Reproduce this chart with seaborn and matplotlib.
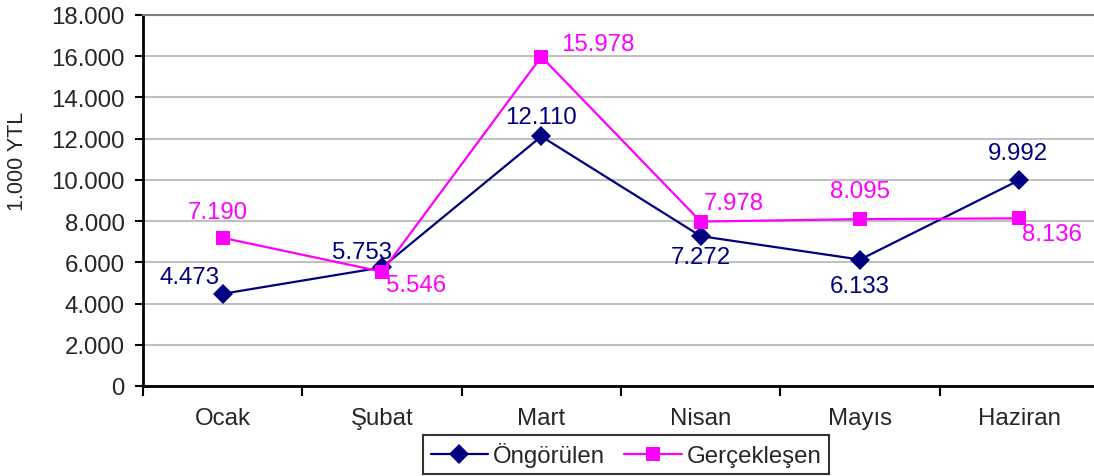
import pandas as pd
import matplotlib
matplotlib.use('Agg')
import matplotlib.pyplot as plt
import seaborn as sns
from matplotlib.lines import Line2D

# Données
aylar = ['Ocak', 'Şubat', 'Mart', 'Nisan', 'Mayıs', 'Haziran']
ongorulen = [4473, 5753, 12110, 7272, 6133, 9992]
gerceklesen = [7190, 5546, 15978, 7978, 8095, 8136]
y_ticks = [0, 2000, 4000, 6000, 8000, 10000, 12000, 14000, 16000, 18000]

df = pd.DataFrame({
    'Ay': aylar * 2,
    'Deger': ongorulen + gerceklesen,
    'Seri': ['Öngörülen'] * 6 + ['Gerçekleşen'] * 6,
})

sns.set_style('white')
plt.rcParams['font.family'] = ['Liberation Sans', 'DejaVu Sans']
FS = 17.3

fig = plt.figure(figsize=(10.94, 4.77), dpi=100)
ax = fig.add_axes([143 / 1094, 90 / 477, (1099 - 143) / 1094, (387 - 16) / 477])

renkler = {'Öngörülen': '#000080', 'Gerçekleşen': '#FF00FF'}
sns.lineplot(data=df, x='Ay', y='Deger', hue='Seri', style='Seri',
             palette=renkler, markers={'Öngörülen': 'D', 'Gerçekleşen': 's'},
             dashes=False, markersize=10, linewidth=1.6, sort=False,
             markeredgewidth=0, ax=ax, legend=False)

# eksenler
ax.set_xlim(-0.5, 5.5)
ax.set_ylim(0, 18000)
ax.set_yticks(y_ticks)
ax.set_yticklabels([f'{v:,}'.replace(',', '.') for v in y_ticks])
ax.set_xlabel('')
ax.set_ylabel('')
ax.yaxis.grid(True, color='#C0C0C0', linewidth=1.5)
ax.set_axisbelow(True)
for s in ['left', 'bottom']:
    ax.spines[s].set_color('black')
    ax.spines[s].set_linewidth(2)
ax.spines['right'].set_visible(False)
ax.spines['top'].set_color('#808080')
ax.spines['top'].set_linewidth(1.5)

ax.tick_params(axis='y', length=6, width=1.5, color='black', pad=7, labelsize=FS, left=True)
ax.tick_params(axis='x', which='major', length=0, pad=15, labelsize=FS)
ax.set_xticks([i - 0.5 for i in range(len(aylar) + 1)], minor=True)
ax.tick_params(axis='x', which='minor', length=7, width=1.5, color='black', bottom=True)

fig.text(18 / 1094, 0.662, '1.000 YTL', rotation=90, ha='center', va='center', fontsize=15.5)

# değer etiketleri (piksel kaydırma)
mavi_off = [(-33, 17), (-20, 15), (0, 19), (0, -21), (0, -26), (-1, 27)]
pembe_off = [(-5, 26), (34, -13), (56, 13), (33, 19), (0, 28), (33, -16)]
for i in range(len(aylar)):
    ax.annotate(f'{ongorulen[i]:,}'.replace(',', '.'), (i, ongorulen[i]),
                xytext=mavi_off[i], textcoords='offset pixels',
                ha='center', va='center', color='#000080', fontsize=FS)
    ax.annotate(f'{gerceklesen[i]:,}'.replace(',', '.'), (i, gerceklesen[i]),
                xytext=pembe_off[i], textcoords='offset pixels',
                ha='center', va='center', color='#FF00FF', fontsize=FS)

# lejant
h = [Line2D([], [], color='#000080', marker='D', markersize=10, linewidth=1.6, markeredgewidth=0),
     Line2D([], [], color='#FF00FF', marker='s', markersize=10, linewidth=1.6, markeredgewidth=0)]
leg = fig.legend(h, ['Öngörülen', 'Gerçekleşen'], loc='upper center',
                 bbox_to_anchor=(626 / 1094, 41 / 477), ncol=2, fontsize=FS,
                 frameon=True, fancybox=False, edgecolor='black',
                 handlelength=2.4, handletextpad=0.2, columnspacing=0.8,
                 borderpad=0.3, borderaxespad=0)
leg.get_frame().set_linewidth(1.5)

fig.savefig('out.png', dpi=100)
